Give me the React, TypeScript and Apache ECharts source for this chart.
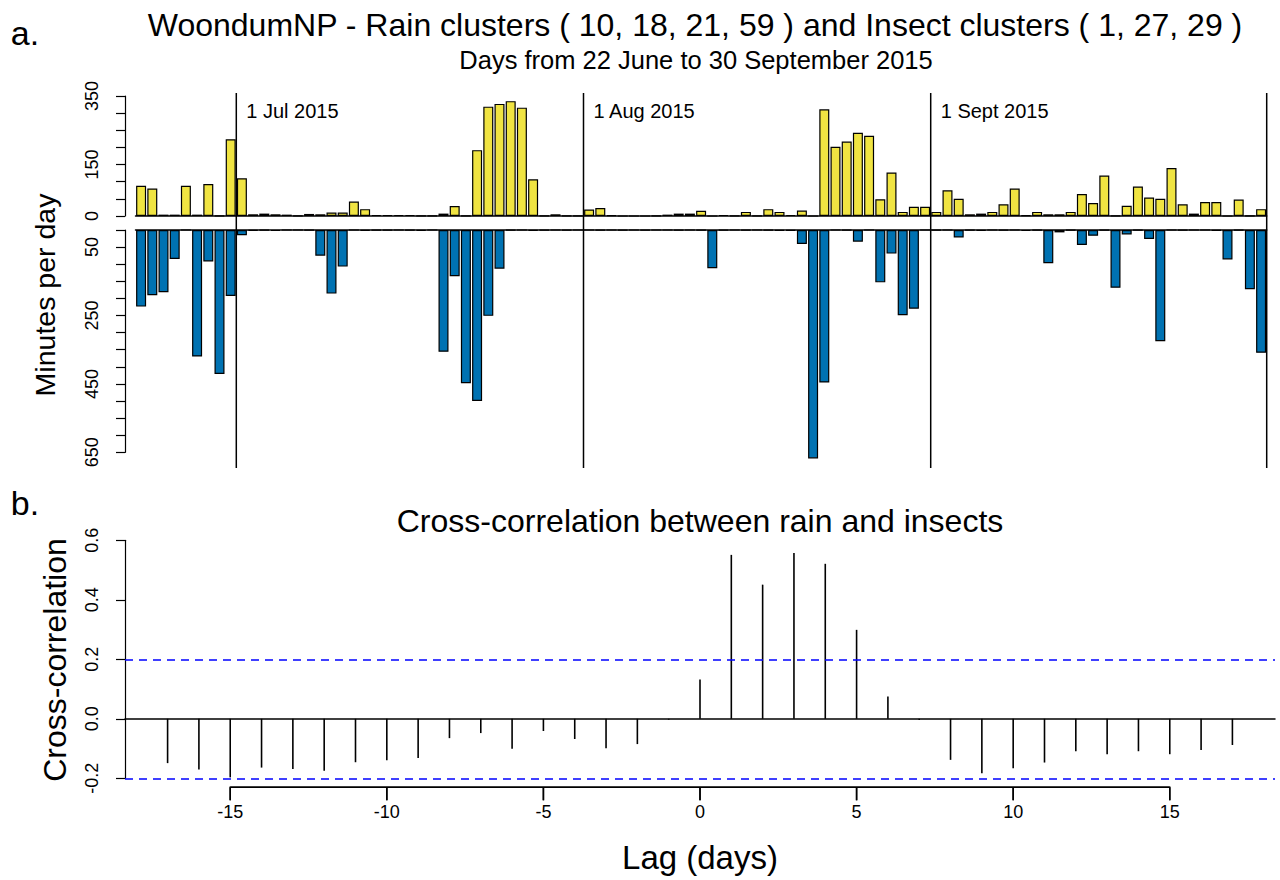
import React, { useEffect, useRef } from "react";
import * as echarts from "echarts";

// ---- Data ----
const rain = [
  88, 80, 4, 4, 88, 4, 93, 1, 224, 110,
  5, 7, 5, 4, 1, 6, 5, 10, 10, 42,
  20, 3, 3, 3, 3, 1, 1, 7, 29, 1,
  192, 319, 327, 335, 316, 107, 1, 5, 1, 1,
  19, 23, 2, 0, 0, 0, 1, 4, 7, 7,
  15, 0, 3, 1, 12, 1, 20, 12, 3, 16,
  0, 311, 202, 217, 243, 234, 49, 127, 12, 27,
  27, 12, 75, 50, 5, 7, 12, 34, 80, 2,
  12, 5, 5, 12, 64, 38, 118, 1, 30, 86,
  54, 50, 140, 34, 7, 41, 41, 0, 48, 1, 20,
];
const insects = [
  224, 191, 182, 85, 0, 370, 92, 421, 193, 15,
  2, 1, 3, 0, 0, 1, 75, 186, 107, 0,
  2, 1, 1, 0, 1, 2, 0, 356, 135, 448,
  500, 251, 113, 1, 0, 2, 1, 0, 1, 0,
  0, 1, 0, 1, 0, 1, 0, 0, 1, 0,
  1, 112, 1, 0, 1, 0, 1, 2, 2, 41,
  668, 446, 0, 1, 34, 0, 153, 69, 249, 230,
  0, 1, 0, 22, 1, 2, 0, 1, 0, 3,
  1, 97, 7, 1, 44, 17, 1, 169, 13, 1,
  26, 325, 0, 1, 0, 0, 2, 86, 1, 173, 359,
];
const monthStartIdx = [9, 40, 71, 101];
const monthLabels = ["1 Jul 2015", "1 Aug 2015", "1 Sept 2015", ""];
const rainTickLabels = [0, 150, 350];
const insectTickLabels = [50, 250, 450, 650];
const lags = [
  -17, -16, -15, -14, -13, -12, -11, -10, -9, -8, -7, -6, -5, -4, -3, -2, -1,
  0, 1, 2, 3, 4, 5, 6, 7, 8, 9, 10, 11, 12, 13, 14, 15, 16, 17,
];
const ccf = [
  -0.149, -0.17, -0.197, -0.164, -0.169, -0.175, -0.146, -0.139, -0.132,
  -0.065, -0.048, -0.101, -0.041, -0.068, -0.099, -0.085, -0.003,
  0.132, 0.551, 0.451, 0.557, 0.521, 0.299, 0.075, -0.004,
  -0.138, -0.183, -0.166, -0.147, -0.109, -0.119, -0.109, -0.119, -0.105, -0.088,
];
const ciBound = 0.196;
const lagTicks = [-15, -10, -5, 0, 5, 10, 15];

const FONT = "'Liberation Sans', Arial, sans-serif";

export default function App() {
  const ref = useRef<HTMLDivElement>(null);
  useEffect(() => {
    if (!ref.current) return;
    const chart = echarts.init(ref.current, undefined, { renderer: "svg" });
    const rainData = rain.map((v, i) => [i + 0.5, v]);
    const insectData = insects.map((v, i) => [i + 0.5, v]);
    const monthData = monthStartIdx.map((d, i) => [d, i]);
    const ccfData = lags.map((l, i) => [l, ccf[i]]);
    const yMin = -0.2;
    const lagTickData = lagTicks.map((t) => [t, yMin]);

    const gL = 135.5;
    const gW = 1131.2;
    const black = "#000";
    const tickFont = { fontFamily: FONT, fontSize: 18, color: black };

    const baseGraphic: any[] = [
      {
        type: "text", x: 25, y: 33,
        style: { text: "a.", fill: black, fontFamily: FONT, fontSize: 34, align: "center", verticalAlign: "middle" },
      },
      {
        type: "text", x: 695, y: 25,
        style: {
          text: "WoondumNP - Rain clusters ( 10, 18, 21, 59 ) and Insect clusters ( 1, 27, 29 )",
          fill: black, fontFamily: FONT, fontSize: 32, align: "center", verticalAlign: "middle",
        },
      },
      {
        type: "text", x: 696, y: 60,
        style: {
          text: "Days from 22 June to 30 September 2015",
          fill: black, fontFamily: FONT, fontSize: 25.5, align: "center", verticalAlign: "middle",
        },
      },
      {
        type: "text", x: 45, y: 295, rotation: Math.PI / 2,
        style: { text: "Minutes per day", fill: black, fontFamily: FONT, fontSize: 28.5, align: "center", verticalAlign: "middle" },
      },
      {
        type: "text", x: 25, y: 503,
        style: { text: "b.", fill: black, fontFamily: FONT, fontSize: 34, align: "center", verticalAlign: "middle" },
      },
      {
        type: "text", x: 700, y: 521,
        style: {
          text: "Cross-correlation between rain and insects",
          fill: black, fontFamily: FONT, fontSize: 32, align: "center", verticalAlign: "middle",
        },
      },
      {
        type: "text", x: 55, y: 660, rotation: Math.PI / 2,
        style: { text: "Cross-correlation", fill: black, fontFamily: FONT, fontSize: 32, align: "center", verticalAlign: "middle" },
      },
      {
        type: "text", x: 700, y: 857,
        style: { text: "Lag (days)", fill: black, fontFamily: FONT, fontSize: 33, align: "center", verticalAlign: "middle" },
      },
    ];

    const buildOption = (extraGraphic: any[]): any => ({
      animation: false,
      backgroundColor: "#fff",
      grid: [
        { left: gL, top: 96, width: gW, height: 120 },
        { left: gL, top: 230, width: gW, height: 222.3 },
        { left: gL, top: 93, width: gW, height: 375 },
        { left: 125, top: 540.3, width: 1150, height: 238 },
      ],
      xAxis: [
        {
          gridIndex: 0, type: "value", min: 0, max: 101,
          axisLine: { show: true, onZero: true, lineStyle: { color: black, width: 1.5 } },
          axisTick: { show: false }, axisLabel: { show: false }, splitLine: { show: false },
        },
        {
          gridIndex: 1, type: "value", min: 0, max: 101, position: "top",
          axisLine: { show: true, onZero: true, lineStyle: { color: black, width: 1.5 } },
          axisTick: { show: false }, axisLabel: { show: false }, splitLine: { show: false },
        },
        { gridIndex: 2, type: "value", min: 0, max: 101, show: false },
        {
          gridIndex: 3, type: "value", min: -18.36, max: 18.36,
          axisLine: { show: true, onZero: true, lineStyle: { color: black, width: 1.5 } },
          axisTick: { show: false }, axisLabel: { show: false }, splitLine: { show: false },
        },
      ],
      yAxis: [
        {
          gridIndex: 0, type: "value", min: 0, max: 350, interval: 50, offset: 10.5,
          axisLine: { show: true, onZero: false, lineStyle: { color: black, width: 1.2 } },
          axisTick: { show: true, length: 9, lineStyle: { color: black, width: 1.2 } },
          axisLabel: {
            ...tickFont, rotate: 90, margin: 24,
            formatter: (v: number) => (rainTickLabels.includes(v) ? String(v) : ""),
          },
          splitLine: { show: false },
        },
        {
          gridIndex: 1, type: "value", min: 0, max: 650, interval: 50, inverse: true, offset: 10.5,
          axisLine: { show: true, onZero: false, lineStyle: { color: black, width: 1.2 } },
          axisTick: { show: true, length: 9, lineStyle: { color: black, width: 1.2 } },
          axisLabel: {
            ...tickFont, rotate: 90, margin: 24,
            formatter: (v: number) => (insectTickLabels.includes(v) ? String(v) : ""),
          },
          splitLine: { show: false },
        },
        { gridIndex: 2, type: "value", min: 0, max: 1, show: false },
        {
          gridIndex: 3, type: "value", min: yMin, max: 0.6, interval: 0.2,
          axisLine: { show: true, onZero: false, lineStyle: { color: black, width: 1.2 } },
          axisTick: { show: true, length: 9, lineStyle: { color: black, width: 1.2 } },
          axisLabel: {
            ...tickFont, rotate: 90, margin: 24,
            formatter: (v: number) => v.toFixed(1),
          },
          splitLine: { show: false },
        },
      ],
      series: [
        {
          type: "bar", name: "Rain", xAxisIndex: 0, yAxisIndex: 0, data: rainData,
          barWidth: 10, clip: false,
          itemStyle: { color: "#F0E442", borderColor: black, borderWidth: 1.2 },
        },
        {
          type: "bar", name: "Insects", xAxisIndex: 1, yAxisIndex: 1, data: insectData,
          barWidth: 10, clip: false,
          itemStyle: { color: "#0072B2", borderColor: black, borderWidth: 1.2 },
        },
        {
          type: "custom", name: "Months", xAxisIndex: 2, yAxisIndex: 2, data: monthData,
          clip: false,
          renderItem: (params: any, api: any) => {
            const d = api.value(0);
            const idx = params.dataIndex;
            const top = api.coord([d, 1]);
            const bot = api.coord([d, 0]);
            const children: any[] = [
              {
                type: "line",
                shape: { x1: top[0], y1: top[1], x2: bot[0], y2: bot[1] },
                style: { stroke: black, lineWidth: 1.5 },
              },
            ];
            const label = monthLabels[idx];
            if (label) {
              children.push({
                type: "text",
                x: top[0] + 10,
                y: top[1] + 18,
                style: {
                  text: label, fill: black, fontFamily: FONT, fontSize: 20,
                  align: "left", verticalAlign: "middle",
                },
              });
            }
            return { type: "group", children };
          },
        },
        {
          type: "bar", name: "CCF", xAxisIndex: 3, yAxisIndex: 3, data: ccfData,
          barWidth: 1.6, clip: false, itemStyle: { color: black },
          markLine: {
            silent: true, symbol: "none", label: { show: false },
            lineStyle: { color: "#0000FF", type: [8, 6], width: 1.6 },
            data: [{ yAxis: ciBound }, { yAxis: -ciBound }],
          },
        },
        {
          type: "custom", name: "LagAxis", xAxisIndex: 3, yAxisIndex: 3, data: lagTickData,
          clip: false, z: 50,
          renderItem: (params: any, api: any) => {
            const t = api.value(0);
            const p = api.coord([t, yMin]);
            const y0 = p[1] + 9;
            const children: any[] = [
              {
                type: "line",
                shape: { x1: p[0], y1: y0, x2: p[0], y2: y0 + 13 },
                style: { stroke: black, lineWidth: 1.5 },
              },
              {
                type: "text",
                x: p[0],
                y: y0 + 25,
                style: {
                  text: String(t), fill: black, fontFamily: FONT, fontSize: 18,
                  align: "center", verticalAlign: "middle",
                },
              },
            ];
            if (params.dataIndex === 0) {
              const a = api.coord([lagTicks[0], yMin]);
              const b = api.coord([lagTicks[lagTicks.length - 1], yMin]);
              children.push({
                type: "line",
                shape: { x1: a[0], y1: y0, x2: b[0], y2: y0 },
                style: { stroke: black, lineWidth: 1.5 },
              });
            }
            return { type: "group", children };
          },
        },
      ],
      graphic: [...baseGraphic, ...extraGraphic],
    });

    chart.setOption(buildOption([]));

    // Lag axis as one polyline (axis line with tick excursions), positioned
    // through the chart's own scale, then the whole option is set again.
    const pts: number[][] = [];
    lagTicks.forEach((t) => {
      const p = chart.convertToPixel({ gridIndex: 3 }, [t, yMin]) as number[];
      if (p && isFinite(p[0]) && isFinite(p[1])) {
        const yA = p[1] + 9;
        pts.push([p[0], yA]);
        pts.push([p[0], yA + 13]);
        pts.push([p[0], yA]);
      }
    });
    if (pts.length) {
      const extra = [
        {
          type: "polyline",
          shape: { points: pts },
          style: { stroke: black, lineWidth: 1.5, fill: null },
        },
      ];
      chart.setOption(buildOption(extra), { notMerge: true });
    }
    return () => chart.dispose();
  }, []);
  return (
    <div
      ref={ref}
      style={{ position: "absolute", left: 0, top: 0, width: 1280, height: 880, background: "#fff" }}
    />
  );
}
